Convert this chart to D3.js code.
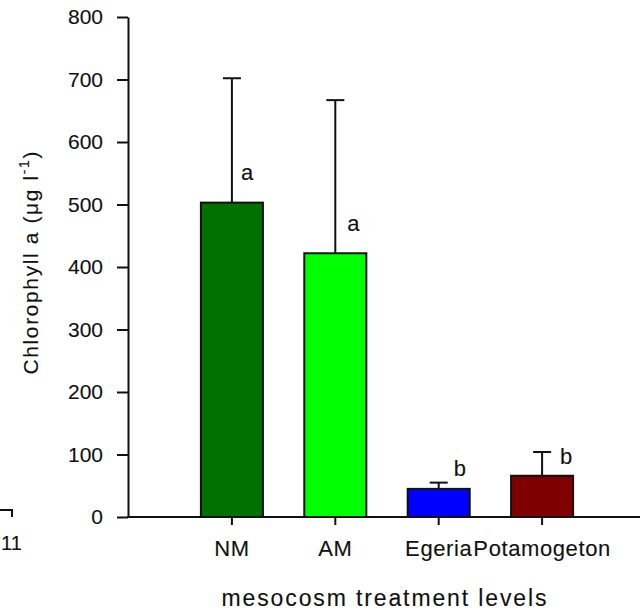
<!DOCTYPE html>
<html>
<head>
<meta charset="utf-8">
<script src="https://cdn.jsdelivr.net/npm/d3@7"></script>
<style>
  body { margin: 0; background: #fff; }
  text { font-family: "Liberation Sans", Arial, sans-serif; fill: #111; stroke: #111; stroke-width: 0.12px; }
</style>
</head>
<body>
<div id="chart-area"></div>
<script>
let treatments = ["NM", "AM", "Egeria", "Potamogeton"]
let chlMeans = [503, 422, 45, 66]
let chlErrors = [199, 245, 10, 38]
let sigLetters = ["a", "a", "b", "b"]
let sigLetterValues = [539, 458, 65, 85]
let barColors = ["#007000", "#00ff00", "#0000ff", "#7f0000"]
let yTicks = [0, 100, 200, 300, 400, 500, 600, 700, 800]

let width = 640
let height = 612
let margin = { top: 17, right: 0, bottom: 95, left: 128 }
let fontFam = "'Liberation Sans', Arial, sans-serif"

let svg = d3.select("#chart-area").append("svg")
  .attr("width", width)
  .attr("height", height)

let y = d3.scaleLinear()
  .domain([0, 800])
  .range([height - margin.bottom, margin.top])

let x = d3.scaleBand()
  .domain(treatments)
  .range([134, width - margin.right])
  .paddingInner(0.4)
  .paddingOuter(0.647)

let data = treatments.map((t, i) => {
  return { name: t, mean: chlMeans[i], err: chlErrors[i], letter: sigLetters[i], letterVal: sigLetterValues[i], color: barColors[i] }
})

// error bars (upper only), drawn behind bars
let capW = 18
let errGroup = svg.append("g")
errGroup.selectAll("line.stem")
  .data(data)
  .enter()
  .append("line")
    .attr("x1", d => x(d.name) + x.bandwidth() / 2)
    .attr("x2", d => x(d.name) + x.bandwidth() / 2)
    .attr("y1", d => y(d.mean))
    .attr("y2", d => y(d.mean + d.err))
    .attr("stroke", "#111")
    .attr("stroke-width", 2)
errGroup.selectAll("line.cap")
  .data(data)
  .enter()
  .append("line")
    .attr("x1", d => x(d.name) + x.bandwidth() / 2 - capW / 2)
    .attr("x2", d => x(d.name) + x.bandwidth() / 2 + capW / 2)
    .attr("y1", d => y(d.mean + d.err))
    .attr("y2", d => y(d.mean + d.err))
    .attr("stroke", "#111")
    .attr("stroke-width", 2)

svg.selectAll("rect")
  .data(data)
  .enter()
  .append("rect")
    .attr("x", d => x(d.name))
    .attr("y", d => y(d.mean))
    .attr("width", x.bandwidth())
    .attr("height", d => y(0) - y(d.mean))
    .attr("fill", d => d.color)
    .attr("stroke", "#111")
    .attr("stroke-width", 2)

svg.selectAll("text.sig")
  .data(data)
  .enter()
  .append("text")
    .attr("class", "sig")
    .attr("x", (d, i) => x(d.name) + x.bandwidth() / 2 + 9 + i * 3)
    .attr("y", d => y(d.letterVal))
    .style("font-size", "22px")
    .text(d => d.letter)

// y axis
let yAxis = svg.append("g")
  .attr("transform", "translate(" + margin.left + ",0)")
  .call(d3.axisLeft(y).tickValues(yTicks).tickSize(11).tickPadding(14).tickSizeOuter(0))
yAxis.select(".domain").attr("stroke", "#111").attr("stroke-width", 2)
yAxis.selectAll(".tick line").attr("stroke", "#111").attr("stroke-width", 2)
yAxis.selectAll(".tick text")
  .style("font-size", "21px")
  .style("font-family", fontFam)
  .attr("fill", "#111")

// x axis
let xAxis = svg.append("g")
  .attr("transform", "translate(0," + y(0) + ")")
  .call(d3.axisBottom(x).tickSize(8).tickPadding(15).tickSizeOuter(0))
xAxis.select(".domain").remove()
xAxis.append("line")
  .attr("x1", margin.left - 1)
  .attr("x2", width)
  .attr("stroke", "#111")
  .attr("stroke-width", 2)
xAxis.selectAll(".tick line").attr("stroke", "#111").attr("stroke-width", 2)
xAxis.selectAll(".tick text")
  .style("font-size", "22px")
  .style("font-family", fontFam)
  .attr("letter-spacing", "0.6px")
  .attr("fill", "#111")

// axis titles
svg.append("text")
  .attr("x", 384)
  .attr("y", 606)
  .attr("text-anchor", "middle")
  .attr("textLength", 325)
  .style("font-size", "23px")
  .text("mesocosm treatment levels")

let yTitle = svg.append("text")
  .attr("transform", "translate(38,263) rotate(-90)")
  .attr("text-anchor", "middle")
  .attr("textLength", 223)
  .style("font-size", "21px")
yTitle.append("tspan").text("Chlorophyll a (μg l")
yTitle.append("tspan").attr("dy", -9).style("font-size", "14px").text("-1")
yTitle.append("tspan").attr("dy", 9).text(")")

// fragment of neighbouring panel at the left edge
svg.append("path")
  .attr("d", "M0,510 H12 V517")
  .attr("fill", "none")
  .attr("stroke", "#111")
  .attr("stroke-width", 2)
svg.append("text")
  .attr("x", 1)
  .attr("y", 550)
  .style("font-size", "20px")
  .text("11")
</script>
</body>
</html>
